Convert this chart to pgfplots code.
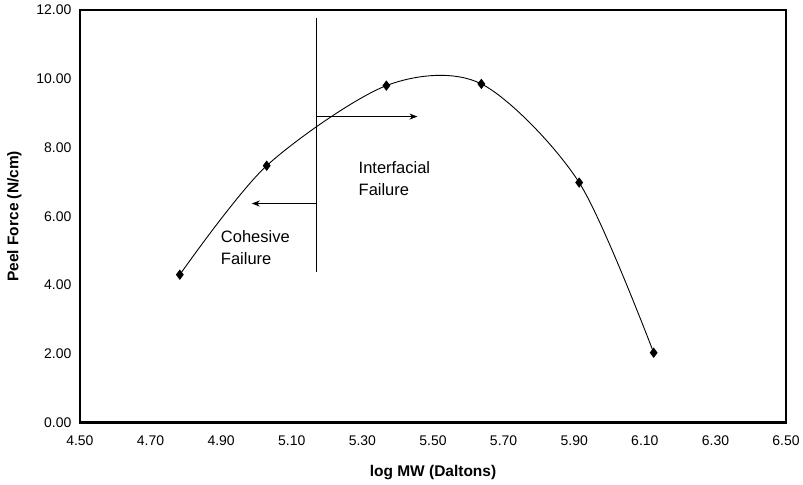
\documentclass[border=0pt]{standalone}
\usepackage{fontspec}
\setmainfont{Liberation Sans}
\usepackage{pgfplots}
\pgfplotsset{compat=1.18}
\usetikzlibrary{arrows.meta}

\begin{document}
\begin{tikzpicture}
\begin{axis}[
  scale only axis,
  width=707pt, height=413pt,
  xmin=4.5, xmax=6.5, ymin=0, ymax=12,
  xtick={4.5,4.7,...,6.51}, ytick={0,2,...,12},
  major tick length=0pt,
  axis line style={line width=2.6pt},
  /pgf/number format/assume math mode=true,
  /pgf/number format/.cd, fixed, fixed zerofill, precision=2, /pgfplots/.cd,
  tick label style={font=\fontsize{14}{16}\selectfont},
  xticklabel style={yshift=-10pt},
  yticklabel style={xshift=-5pt},
  xlabel={\textbf{log MW (Daltons)}},
  ylabel={\textbf{Peel Force (N/cm)}},
  label style={font=\fontsize{15.5}{18}\selectfont},
  xlabel style={at={(axis description cs:0.5,0)}, anchor=north, yshift=-39pt},
  ylabel style={yshift=8pt},
  clip=false,
]
% measured points
\addplot[black, line width=0.9pt, smooth, tension=0.5,
  mark=diamond*, mark size=4.5pt, mark options={solid, fill=black}]
  coordinates {(4.783,4.30) (5.029,7.47) (5.368,9.80) (5.637,9.85) (5.914,6.98) (6.125,2.03)};
% boundary between failure modes
\addplot[black, line width=0.7pt] coordinates {(5.17,11.77) (5.17,4.39)};
\addplot[black, line width=0.7pt, -{Stealth[length=8pt,width=6pt]}] coordinates {(5.17,8.90) (5.456,8.90)};
\addplot[black, line width=0.7pt, -{Stealth[length=8pt,width=6pt]}] coordinates {(5.17,6.37) (4.987,6.37)};
\node[anchor=west, align=left, inner sep=0pt, font=\fontsize{16.5}{22}\selectfont]
  at (axis cs:5.289,7.09) {Interfacial\\Failure};
\node[anchor=west, align=left, inner sep=0pt, font=\fontsize{16.5}{22}\selectfont]
  at (axis cs:4.899,5.09) {Cohesive\\Failure};
\end{axis}
\path[use as bounding box] (-80pt,-62pt) rectangle (723pt,423pt);
\end{tikzpicture}
\end{document}
